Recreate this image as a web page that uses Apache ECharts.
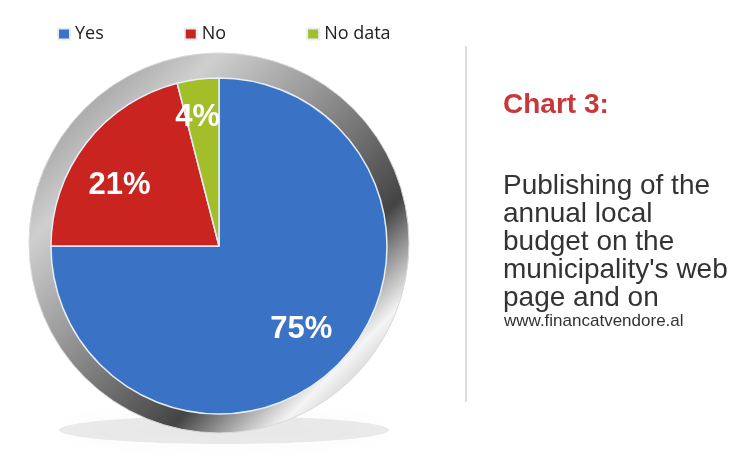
<!DOCTYPE html>
<html>
<head>
<meta charset="utf-8">
<script src="https://cdn.jsdelivr.net/npm/echarts@6/dist/echarts.min.js"></script>
<style>
  html, body { margin: 0; padding: 0; background: #fff; }
  #chart { width: 749px; height: 475px; }
</style>
</head>
<body>
<div id="chart"></div>
<script>
// data
var categories = ['Yes', 'No', 'No data'];
var shares = [75, 21, 4];
var colors = ['#3a72c6', '#c92420', '#a2bf2a'];

var pieData = categories.map(function (name, i) {
  return { name: name, value: shares[i], itemStyle: { color: colors[i] } };
});

var chart = echarts.init(document.getElementById('chart'));

// pie centre and radius
var cx = 219, cy = 246, r = 168;
// small nudges so the percentages sit where the original has them
var labelNudge = [[-4, -3], [-3, 14], [-6, -8]];

chart.setOption({
  animation: false,
  legend: {
    data: categories,
    top: 20,
    left: 52,
    itemGap: 80,
    itemWidth: 12,
    itemHeight: 11,
    icon: 'rect',
    textStyle: { fontFamily: 'Open Sans', fontSize: 18, color: '#222' }
  },
  graphic: [
    // shadow below the dial
    {
      type: 'ellipse', silent: true, z: 0,
      shape: { cx: cx + 5, cy: 430, rx: 165, ry: 14 },
      style: { fill: 'rgba(0,0,0,0.08)', shadowBlur: 24, shadowColor: 'rgba(0,0,0,0.3)' }
    },
    // silver ring
    {
      type: 'ring', silent: true, z: 1,
      shape: { cx: cx, cy: cy - 3, r: 190, r0: 164 },
      style: {
        fill: new echarts.graphic.LinearGradient(0, 0, 1, 1, [
          { offset: 0, color: '#7a7a7a' },
          { offset: 0.25, color: '#cfcfcf' },
          { offset: 0.45, color: '#8f8f8f' },
          { offset: 0.68, color: '#444' },
          { offset: 0.82, color: '#f4f4f4' },
          { offset: 1, color: '#808080' }
        ]),
        stroke: '#d8d8d8', lineWidth: 1
      }
    },
    // divider
    {
      type: 'line', silent: true,
      shape: { x1: 466, y1: 46, x2: 466, y2: 402 },
      style: { stroke: '#dcdcdc', lineWidth: 2 }
    },
    {
      type: 'text', left: 503, top: 91,
      style: { text: 'Chart 3:', fill: '#c8373a', font: 'bold 28px "Liberation Sans", Arial' }
    },
    {
      type: 'text', left: 503, top: 172,
      style: {
        text: 'Publishing of the\nannual local\nbudget on the\nmunicipality\'s web\npage and on',
        fill: '#333', font: '28px "Liberation Sans", Arial', lineHeight: 28
      }
    },
    {
      type: 'text', left: 504, top: 313,
      style: { text: 'www.financatvendore.al', fill: '#333', font: '17px "Liberation Sans", Arial' }
    }
  ],
  series: [
    {
      type: 'pie',
      center: [cx, cy],
      radius: [0, r],
      startAngle: 90,
      clockwise: true,
      silent: true,
      z: 2,
      data: pieData,
      label: { show: false },
      labelLine: { show: false },
      itemStyle: { borderColor: '#e8eef8', borderWidth: 1.5 }
    },
    {
      // transparent copy that places the percentages further out
      type: 'pie',
      center: [cx, cy],
      radius: [70, r],
      startAngle: 90,
      silent: true,
      z: 3,
      data: pieData.map(function (d) { return { name: d.name, value: d.value }; }),
      itemStyle: { color: 'rgba(0,0,0,0)' },
      label: {
        show: true,
        position: 'inside',
        formatter: '{c}%',
        color: '#fff',
        fontFamily: '"Liberation Sans", Arial',
        fontWeight: 'bold',
        fontSize: 31
      },
      labelLayout: function (p) {
        var n = labelNudge[p.dataIndex];
        return { dx: n[0], dy: n[1] };
      },
      labelLine: { show: false }
    }
  ]
});
</script>
</body>
</html>
